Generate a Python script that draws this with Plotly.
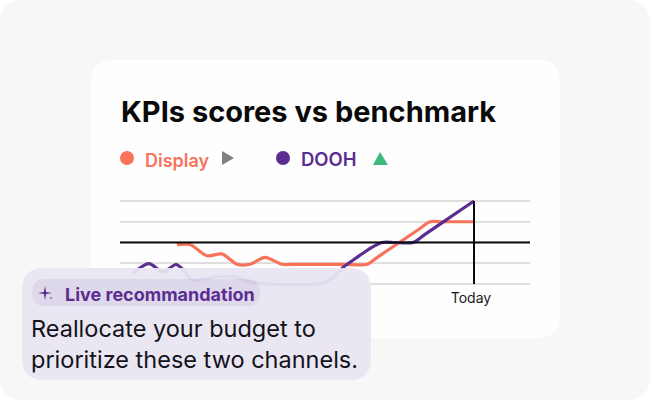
import plotly.graph_objects as go

W, H = 650, 400

# Data (x = time position, y = score; benchmark sits at 2)
display_x = [57, 70, 87, 102, 117, 130, 145, 162, 175, 200, 225, 247, 258, 299, 310, 322, 353]
display_y = [1.9, 1.9, 1.36, 1.45, 0.95, 0.95, 1.28, 0.95, 0.95, 0.95, 0.95, 0.95, 1.31, 2.64, 3.0, 3.0, 3.0]
dooh_x = [13, 29, 43, 56, 63, 72, 97, 117, 130, 207, 223, 236, 248, 262, 275, 293, 305, 340, 354]
dooh_y = [0.52, 0.98, 0.58, 0.94, 0.7, 0.2, 0.35, 0.33, 0.1, 0.1, 0.8, 1.25, 1.65, 2.0, 2.0, 2.0, 2.39, 3.54, 4.0]
benchmark = 2
today = 354
y_ticks = [0, 1, 2, 3, 4]
title = "KPIs scores vs benchmark"
series_names = ["Display", "DOOH"]
tick_label = "Today"
chip_text = "Live recommandation"
card_lines = ["Reallocate your budget to", "prioritize these two channels."]

CORAL = "#f9735b"
PURPLE = "#5b2d91"
FONT = "Inter"


def px(x):
    return x / W


def py(y):
    return 1 - y / H


def rrect(x0, y0, x1, y1, r):
    pts = [
        f"M {px(x0 + r)} {py(y0)}", f"L {px(x1 - r)} {py(y0)}",
        f"Q {px(x1)} {py(y0)} {px(x1)} {py(y0 + r)}", f"L {px(x1)} {py(y1 - r)}",
        f"Q {px(x1)} {py(y1)} {px(x1 - r)} {py(y1)}", f"L {px(x0 + r)} {py(y1)}",
        f"Q {px(x0)} {py(y1)} {px(x0)} {py(y1 - r)}", f"L {px(x0)} {py(y0 + r)}",
        f"Q {px(x0)} {py(y0)} {px(x0 + r)} {py(y0)} Z",
    ]
    return " ".join(pts)


def poly(points):
    return "M " + " L ".join(f"{px(a)} {py(b)}" for a, b in points) + " Z"


def paper_shape(path, fill, layer="below"):
    return dict(type="path", xref="paper", yref="paper", path=path, fillcolor=fill,
                line=dict(width=0), layer=layer)


def star(cx, cy, r):
    k = r * 0.16
    pts = [(cx, cy - r), (cx + k, cy - k), (cx + r, cy), (cx + k, cy + k),
           (cx, cy + r), (cx - k, cy + k), (cx - r, cy), (cx - k, cy - k)]
    return poly(pts)


shapes = [
    paper_shape(rrect(0, 0, 650, 400, 24), "#f8f7f8"),
    paper_shape(rrect(91, 60, 560, 338, 22), "#fefefe"),
    dict(type="line", xref="paper", yref="y", x0=px(120), x1=px(530), y0=benchmark, y1=benchmark,
         line=dict(color="#0a0a0a", width=2), layer="above"),
    dict(type="line", xref="x", yref="y", x0=today, x1=today, y0=0, y1=4,
         line=dict(color="#0a0a0a", width=2), layer="above"),
    paper_shape(rrect(22, 268, 371, 380, 22), "rgba(233,229,242,0.94)", "above"),
    paper_shape(rrect(32, 279, 260, 306, 13), "rgba(91,45,145,0.08)", "above"),
    paper_shape(star(45, 293, 7), PURPLE, "above"),
    paper_shape(star(51, 298, 2), PURPLE, "above"),
    dict(type="circle", xref="paper", yref="paper", x0=px(120), x1=px(134), y0=py(151), y1=py(165),
         fillcolor=CORAL, line=dict(width=0)),
    dict(type="circle", xref="paper", yref="paper", x0=px(276), x1=px(290), y0=py(151), y1=py(165),
         fillcolor=PURPLE, line=dict(width=0)),
    paper_shape(poly([(222, 151), (234, 158), (222, 165)]), "#808080"),
    paper_shape(poly([(380, 152), (388, 165), (373, 165)]), "#3dba7e"),
]


def note(x, y, text, size, color, weight=400):
    return dict(xref="paper", yref="paper", x=px(x), y=py(y), text=text, showarrow=False,
                xanchor="left", yanchor="middle", align="left",
                font=dict(family=FONT, size=size, color=color, weight=weight))


annotations = [
    note(119, 111, title, 29, "#0a0a0a", 700),
    note(143, 160, series_names[0], 18, CORAL, 600),
    note(299, 159, series_names[1], 18.5, PURPLE, 600),
    note(63, 294, chip_text, 18, PURPLE, 700),
    note(29, 328, card_lines[0], 23.5, "#14121a"),
    note(29, 359, card_lines[1], 23.5, "#14121a"),
]

fig = go.Figure()
fig.add_trace(go.Scatter(x=display_x, y=display_y, name=series_names[0], mode="lines",
                         line=dict(color=CORAL, width=3.2, shape="spline", smoothing=0.8)))
fig.add_trace(go.Scatter(x=dooh_x, y=dooh_y, name=series_names[1], mode="lines",
                         line=dict(color=PURPLE, width=3.2, shape="spline", smoothing=0.8)))

fig.update_layout(
    width=W, height=H, autosize=False, margin=dict(l=0, r=0, t=0, b=0),
    paper_bgcolor="#ffffff", plot_bgcolor="rgba(0,0,0,0)", showlegend=False,
    shapes=shapes, annotations=annotations,
    xaxis=dict(domain=[px(120), px(530)], range=[0, 410], showgrid=False, zeroline=False,
               tickmode="array", tickvals=[today], ticktext=[tick_label], ticks="", ticklen=0,
               ticklabelstandoff=2, ticklabelshift=-3,
               tickfont=dict(family=FONT, size=14, color="#1a1a1a"), showline=False, fixedrange=True),
    yaxis=dict(domain=[py(286.075), py(198.925)], range=[-0.1, 4.1], tickmode="array", tickvals=y_ticks,
               showticklabels=False, showgrid=True, gridcolor="#dedede", gridwidth=2,
               zeroline=False, showline=False, fixedrange=True),
)

fig.write_html("out.html", config=dict(displayModeBar=False),
               post_script="document.body.style.margin='0';document.body.style.background='#fff';")
